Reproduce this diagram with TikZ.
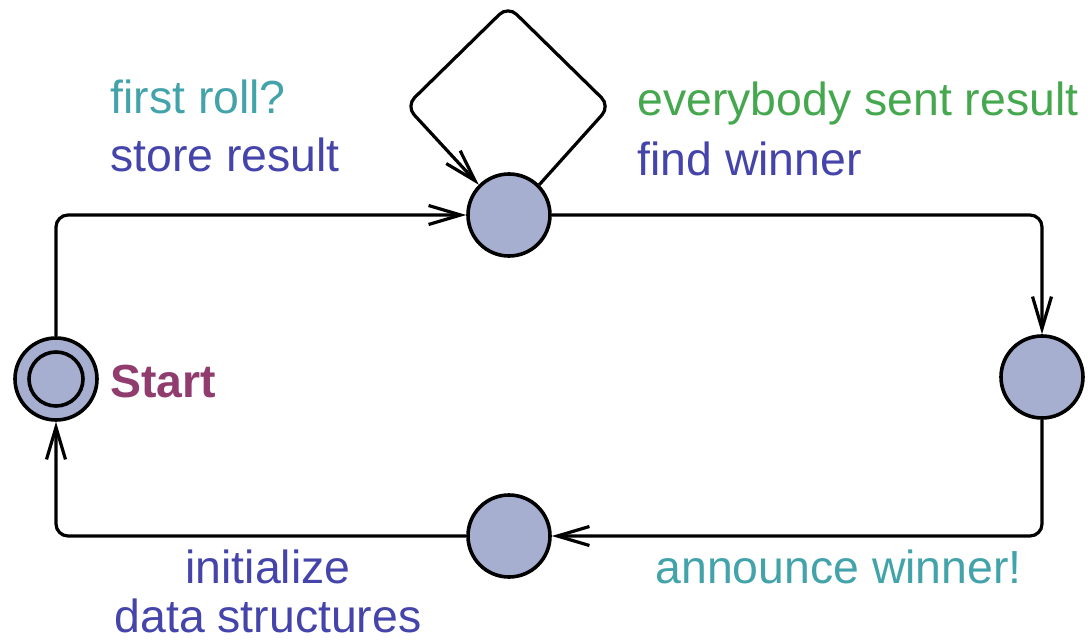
\documentclass[tikz,border=0pt]{standalone}
\usepackage{fontspec}
\setmainfont{Liberation Sans}
\usetikzlibrary{arrows.meta}
\definecolor{locfill}{RGB}{166,175,208}
\definecolor{guardcol}{RGB}{67,163,170}
\definecolor{updatecol}{RGB}{68,68,170}
\definecolor{synccol}{RGB}{69,168,79}
\definecolor{namecol}{RGB}{145,60,110}
\begin{document}
\begin{tikzpicture}[x=0.5pt,y=-0.5pt,
  loc/.style={circle, draw, fill=locfill, line width=1.8pt, minimum size=41pt, inner sep=0pt},
  inner/.style={circle, draw, line width=1.8pt, minimum size=27pt, inner sep=0pt},
  edge/.style={line width=1.6pt, rounded corners=6pt,
    -{Straight Barb[length=16pt,width=9.5pt,line width=1.6pt]}},
  lbl/.style={anchor=base west, inner sep=0pt, font=\fontsize{23.2}{28}\selectfont}]
\useasboundingbox (0,0) rectangle (1088,642);

% locations
\node[loc] (start) at (56,379) {};
\node[inner] (startin) at (start.center) {};
\node[loc] (top) at (509,215) {};
\node[loc] (right) at (1042,377) {};
\node[loc] (bot) at (509,536) {};

% transitions
\draw[edge] (start.north) |- (top.west);
\draw[edge] (top.east) -| (right.north);
\draw[edge] (right.south) |- (bot.east);
\draw[edge] (bot.west) -| (start.south);
\coordinate (loopR) at (610,106);
\coordinate (loopT) at (508,6);
\coordinate (loopL) at (406,106);
\draw[edge] (top.45) -- (loopR) -- (loopT) -- (loopL) -- (top.135);

% labels
\node[lbl, text=namecol, font=\fontsize{23.2}{28}\selectfont\bfseries] (startname) at (110,397) {Start};
\node[lbl, text=guardcol] (g1) at (110,114) {first roll?};
\node[lbl, text=updatecol] (u1) at (110,172) {store result};
\node[lbl, text=synccol] (s1) at (637,116) {everybody sent result};
\node[lbl, text=updatecol] (u2) at (637,176) {find winner};
\node[lbl, text=guardcol] (s2) at (655,583) {announce winner!};
\node[anchor=base, inner sep=0pt, text=updatecol, font=\fontsize{23.2}{28}\selectfont] (u3) at (268,583) {initialize};
\node[anchor=base, inner sep=0pt, text=updatecol, font=\fontsize{23.2}{28}\selectfont] (u4) at (268,632) {data structures};
\end{tikzpicture}
\end{document}
